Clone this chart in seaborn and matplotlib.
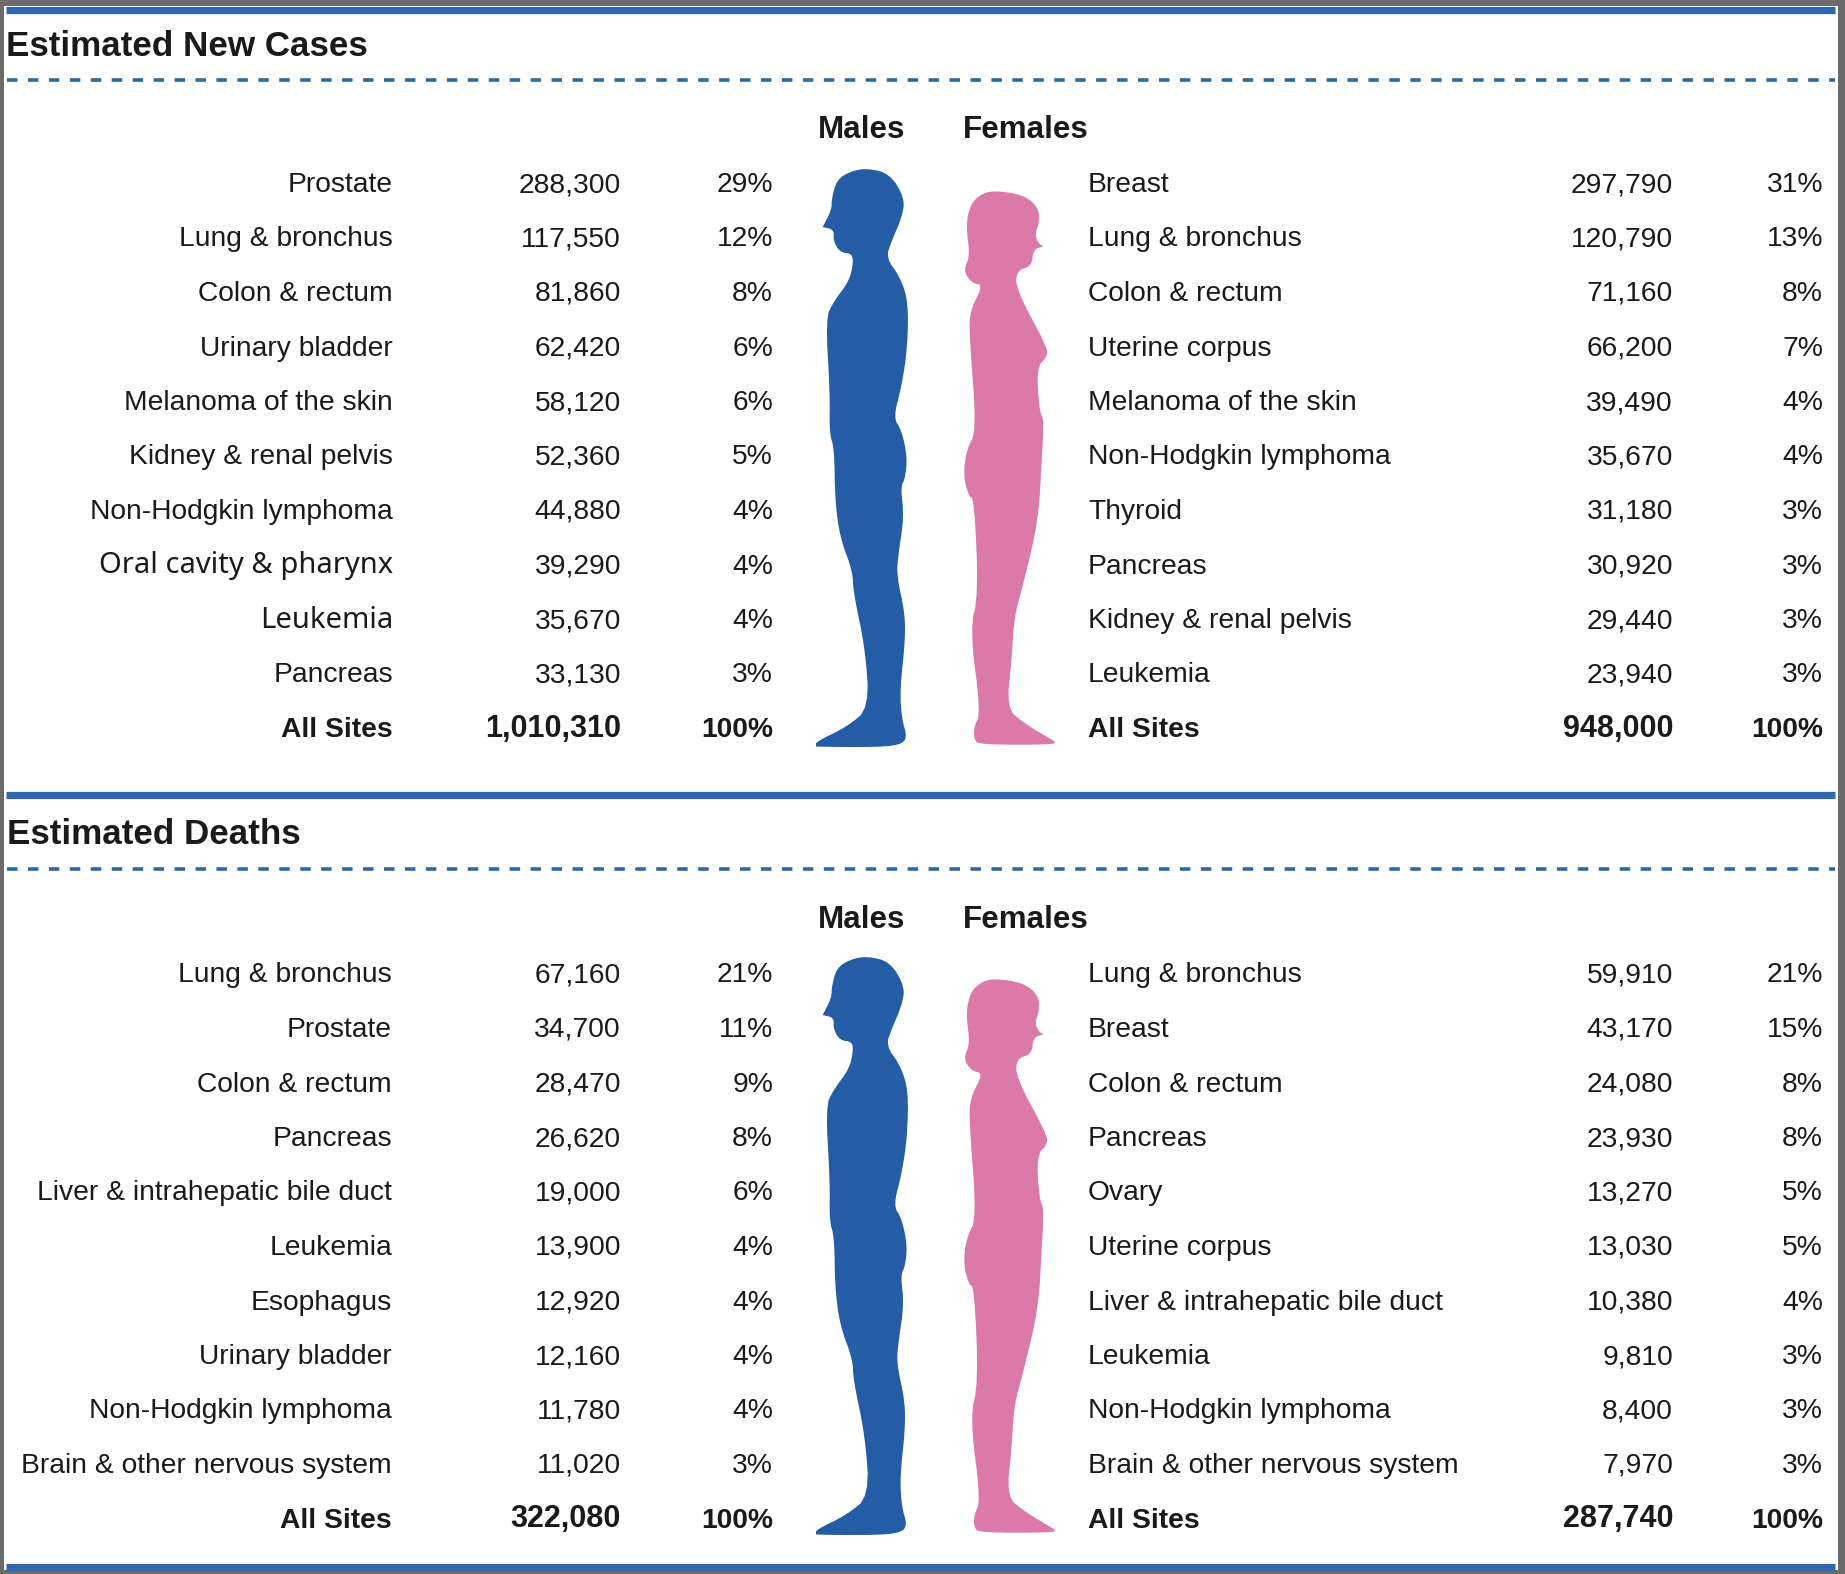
import numpy as np
import matplotlib
matplotlib.use("Agg")
import matplotlib.pyplot as plt
import seaborn as sns

# new cases
cases_m_sites = ["Prostate", "Lung & bronchus", "Colon & rectum", "Urinary bladder", "Melanoma of the skin",
                 "Kidney & renal pelvis", "Non-Hodgkin lymphoma", "Oral cavity & pharynx", "Leukemia", "Pancreas", "All Sites"]
cases_m_vals = [288300, 117550, 81860, 62420, 58120, 52360, 44880, 39290, 35670, 33130, 1010310]
cases_m_pct = [29, 12, 8, 6, 6, 5, 4, 4, 4, 3, 100]
cases_f_sites = ["Breast", "Lung & bronchus", "Colon & rectum", "Uterine corpus", "Melanoma of the skin",
                 "Non-Hodgkin lymphoma", "Thyroid", "Pancreas", "Kidney & renal pelvis", "Leukemia", "All Sites"]
cases_f_vals = [297790, 120790, 71160, 66200, 39490, 35670, 31180, 30920, 29440, 23940, 948000]
cases_f_pct = [31, 13, 8, 7, 4, 4, 3, 3, 3, 3, 100]

# deaths
deaths_m_sites = ["Lung & bronchus", "Prostate", "Colon & rectum", "Pancreas", "Liver & intrahepatic bile duct",
                  "Leukemia", "Esophagus", "Urinary bladder", "Non-Hodgkin lymphoma", "Brain & other nervous system", "All Sites"]
deaths_m_vals = [67160, 34700, 28470, 26620, 19000, 13900, 12920, 12160, 11780, 11020, 322080]
deaths_m_pct = [21, 11, 9, 8, 6, 4, 4, 4, 4, 3, 100]
deaths_f_sites = ["Lung & bronchus", "Breast", "Colon & rectum", "Pancreas", "Ovary", "Uterine corpus",
                  "Liver & intrahepatic bile duct", "Leukemia", "Non-Hodgkin lymphoma", "Brain & other nervous system", "All Sites"]
deaths_f_vals = [59910, 43170, 24080, 23930, 13270, 13030, 10380, 9810, 8400, 7970, 287740]
deaths_f_pct = [21, 15, 8, 8, 5, 5, 4, 3, 3, 3, 100]

# body outlines
male_x = [230, 300, 345, 335, 305, 288, 330, 355, 352, 335, 310, 335, 352, 345, 332, 342, 325, 320, 345, 345, 330, 335, 352,
          330, 250, 78, 78, 78, 170, 238, 225, 190, 188, 150, 135, 133, 118, 120, 107, 130, 178, 190, 185, 150, 130, 132, 98, 98, 125, 125, 140, 180]
male_y = [162, 175, 235, 280, 335, 375, 420, 480, 590, 680, 755, 785, 850, 900, 920, 990, 1080, 1130, 1220, 1290, 1400, 1470, 1515,
          1533, 1538, 1537, 1535, 1525, 1490, 1445, 1300, 1170, 1120, 1040, 950, 830, 790, 700, 520, 480, 430, 385, 365, 362, 335, 308, 302, 302, 260, 235, 190, 170]
female_x = [610, 700, 745, 748, 735, 745, 760, 760, 730, 725, 680, 678, 770, 772, 740, 748, 762, 755, 745, 700, 672, 665, 650, 700, 795, 795,
            790, 570, 552, 552, 572, 540, 565, 553, 535, 520, 530, 560, 538, 540, 580, 545, 520, 540, 528, 540, 570]
female_y = [215, 225, 255, 290, 320, 340, 348, 348, 355, 395, 405, 450, 585, 610, 635, 740, 760, 860, 1000, 1150, 1230, 1330, 1445, 1480, 1525, 1525,
            1532, 1532, 1520, 1490, 1455, 1260, 1175, 950, 940, 890, 830, 785, 560, 500, 440, 435, 405, 370, 300, 250, 225]

BLUE = "#245ca6"
PINK = "#db79a9"
LINE = "#2f66ae"
DASH = "#2f6a9f"
DARK = "#1a1a1a"
ROW_H = 54.5
FS = 20.3
BASE = 7.5
# these two labels are set in another face in the source
ALT_FONT = {"Oral cavity & pharynx", "Leukemia"}


def smooth(x, y, n=2):
    pts = np.column_stack([x, y]).astype(float)
    for _ in range(n):
        nxt = np.roll(pts, -1, axis=0)
        pts = np.column_stack([0.75 * pts + 0.25 * nxt, 0.25 * pts + 0.75 * nxt]).reshape(-1, 2)
    return pts


def body(ax, x, y, color, dy):
    pts = smooth(x, y)
    ax.fill(790 + pts[:, 0] / 3, 100 + pts[:, 1] * 0.4208 + dy, color=color, lw=0)


def column(ax, sites, vals, pct, xs, ha, y0, alt=False):
    for i in range(len(sites)):
        y = y0 + i * ROW_H + BASE
        w = "bold" if sites[i] == "All Sites" else "normal"
        if alt and sites[i] in ALT_FONT:
            ax.text(xs[0], y, sites[i], ha=ha, va="baseline", fontsize=21, family="Noto Sans", color=DARK)
        else:
            ax.text(xs[0], y, sites[i], ha=ha, va="baseline", fontsize=FS, fontweight=w, color=DARK)
        ax.text(xs[1], y, f"{vals[i]:,}", ha="right", va="baseline", fontsize=22 if w == "bold" else FS, fontweight=w, color=DARK)
        ax.text(xs[2], y, f"{pct[i]}%", ha="right", va="baseline", fontsize=FS, fontweight=w, color=DARK)


def section(ax, title, tx, ty, dash_y, head_y, y0, dy, m, f, mx, alt=False):
    ax.text(tx, ty, title, ha="left", va="center", fontsize=25.2, fontweight="bold", color=DARK)
    ax.plot([7, 1835], [dash_y, dash_y], color=DASH, lw=2.6, dashes=(2.9, 2.9))
    ax.text(862, head_y, "Males", ha="center", va="center", fontsize=22.6, fontweight="bold", color=DARK)
    ax.text(1026, head_y, "Females", ha="center", va="center", fontsize=22.6, fontweight="bold", color=DARK)
    column(ax, *m, (mx, 621, 773), "right", y0, alt)
    column(ax, *f, (1088, 1673, 1823), "left", y0)
    body(ax, male_x, male_y, BLUE, dy)
    body(ax, female_x, female_y, PINK, dy)


sns.set_theme(style="white")
plt.rcParams["font.family"] = ["Liberation Sans", "DejaVu Sans"]

fig, ax = plt.subplots(figsize=(18.45, 15.74), dpi=100)
fig.patch.set_facecolor("#6b6b6b")
ax.set_position([0, 0, 1, 1])
ax.set_xlim(0, 1845)
ax.set_ylim(1574, 0)
ax.axis("off")

ax.fill([4, 1838, 1838, 4], [6, 6, 1570, 1570], color="white", lw=0)
for y in (9.5, 795, 1566.5):
    ax.plot([6, 1835], [y, y], color=LINE, lw=5.2, solid_capstyle="butt")

section(ax, "Estimated New Cases", 6, 47, 80, 130, 184.5, 0,
        (cases_m_sites, cases_m_vals, cases_m_pct), (cases_f_sites, cases_f_vals, cases_f_pct), 393, alt=True)
section(ax, "Estimated Deaths", 7, 835, 869, 920, 975, 788,
        (deaths_m_sites, deaths_m_vals, deaths_m_pct), (deaths_f_sites, deaths_f_vals, deaths_f_pct), 392)

fig.savefig("out.png", dpi=100, facecolor=fig.get_facecolor())
